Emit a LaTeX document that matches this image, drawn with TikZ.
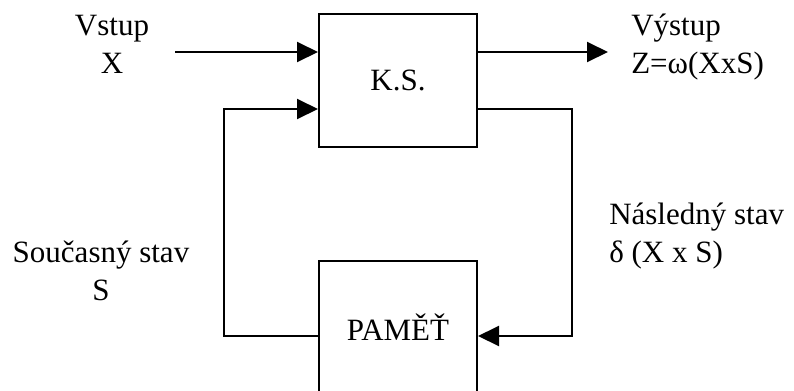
\documentclass[tikz,border=0pt]{standalone}
\usepackage{fontspec}
\setmainfont{Liberation Serif}
\usetikzlibrary{arrows.meta, positioning}
\tikzset{
  arrowK/.style={-{Triangle[length=15.75pt, width=15pt]}, line width=1.5pt},
  block/.style={rectangle, draw, line width=1.5pt, minimum width=118.5pt,
                minimum height=99.75pt, inner sep=0pt},
  label/.style={align=center, inner sep=0pt},
}

\begin{document}
\begin{tikzpicture}[x=0.75pt, y=-0.75pt, font=\fontsize{23.25}{28}\selectfont,
    node distance=84pt]
  \useasboundingbox (0,0) rectangle (794,390);
  % bloky
  \node[block] (ks) at (398,80.5) {K.S.};
  \node[block, below=of ks] (pam) {PAMĚŤ};
  % body vedeni
  \coordinate (xin) at (175,52);
  \coordinate (zout) at (608,52);
  \coordinate (dtop) at (572,109);
  \coordinate (dbot) at (572,336);
  \coordinate (stop) at (224,109);
  \coordinate (sbot) at (224,336);
  \draw[arrowK] (xin) -- (xin -| ks.west);
  \draw[arrowK] (xin -| ks.east) -- (zout);
  \draw[arrowK] (dtop -| ks.east) -- (dtop) -- (dbot) -- (dbot -| pam.east);
  \draw[arrowK] (sbot -| pam.west) -- (sbot) -- (stop) -- (stop -| ks.west);
  % popisky
  \node[label, anchor=base] (vstup) at (112,73) {Vstup\\X};
  \node[label, anchor=base west, align=left] (vystup) at (631,73) {Výstup\\Z=ω(XxS)};
  \node[label, anchor=base] (soucas) at (101,300) {Současný stav\\S};
  \node[label, anchor=base west, align=left] (nasled) at (609,262)
    {Následný stav\\δ (X x S)};
\end{tikzpicture}
\end{document}
